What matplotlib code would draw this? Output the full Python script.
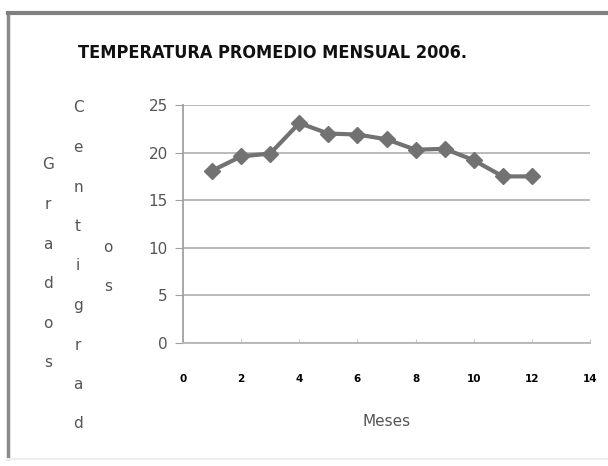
import numpy as np
import matplotlib.pyplot as plt
from matplotlib import font_manager

# Temperatura promedio mensual 2006
meses = [1, 2, 3, 4, 5, 6, 7, 8, 9, 10, 11, 12]
temperatura = [18.1, 19.6, 19.9, 23.1, 22.0, 21.9, 21.4, 20.3, 20.4, 19.2, 17.5, 17.5]
xticks = [0, 2, 4, 6, 8, 10, 12, 14]
yticks = [0, 5, 10, 15, 20, 25]

W, H = 608, 466
fig = plt.figure(figsize=(W / 100, H / 100), dpi=100)
fig.patch.set_facecolor('white')

# marco
fig.add_artist(plt.Line2D([8 / W, 8 / W], [1 - 13 / H, 1 - 458 / H], color='#8a8a8a', lw=2.5))
fig.add_artist(plt.Line2D([8 / W, 1], [1 - 13 / H, 1 - 13 / H], color='#808080', lw=3))
fig.add_artist(plt.Line2D([8 / W, 1], [1 - 459 / H, 1 - 459 / H], color='#eeeeee', lw=1.5))

ax = fig.add_axes([183 / W, 1 - 343 / H, (590 - 183) / W, (343 - 105) / H])
ax.plot(meses, temperatura, color='#727272', lw=3, marker='D', ms=8,
        markerfacecolor='#727272', markeredgecolor='#727272')
ax.set_xlim(0, 14)
ax.set_ylim(0, 25)
ax.set_xticks(xticks)
ax.set_yticks(yticks)
ax.yaxis.grid(True, color='#b5b5b5', lw=1.3)
ax.set_axisbelow(True)
for s in ['top', 'right']:
    ax.spines[s].set_visible(False)
ax.spines['left'].set_color('#a0a0a0')
ax.spines['bottom'].set_color('#b5b5b5')
ax.spines['left'].set_linewidth(1.3)
ax.spines['bottom'].set_linewidth(1.3)
ax.tick_params(axis='y', length=6, color='#a0a0a0', labelcolor='#555555',
               labelsize=11, pad=5)
ax.tick_params(axis='x', length=3, color='#c8c8c8', labelcolor='black',
               labelsize=7.5, pad=22, direction='in')
for lb in ax.get_xticklabels():
    lb.set_fontweight('bold')

ax.set_xlabel('Meses', color='#555555', fontsize=11, labelpad=22)

# titulo en letra estrecha si existe
nombres = {f.name for f in font_manager.fontManager.ttflist}
if 'Liberation Sans Narrow' in nombres:
    t = fig.text(272 / W, 1 - 53 / H, 'TEMPERATURA PROMEDIO MENSUAL 2006.',
                 ha='center', va='center', fontsize=15, fontweight='bold',
                 family='Liberation Sans Narrow', color='#111111')
else:
    t = fig.text(272 / W, 1 - 53 / H, 'TEMPERATURA PROMEDIO MENSUAL 2006.',
                 ha='center', va='center', fontsize=13, fontweight='bold',
                 fontstretch='condensed', family='DejaVu Sans', color='#111111')

# etiqueta del eje y en columnas de letras
columnas = [('Grados', 48, 165), ('Centigrad', 78, 108), ('os', 108, 247)]
for palabra, cx, cy in columnas:
    for i, letra in enumerate(palabra):
        fig.text(cx / W, 1 - (cy + i * 39.5) / H, letra, ha='center', va='center',
                 fontsize=11, color='#555555')

fig.savefig('out.png', dpi=100)
